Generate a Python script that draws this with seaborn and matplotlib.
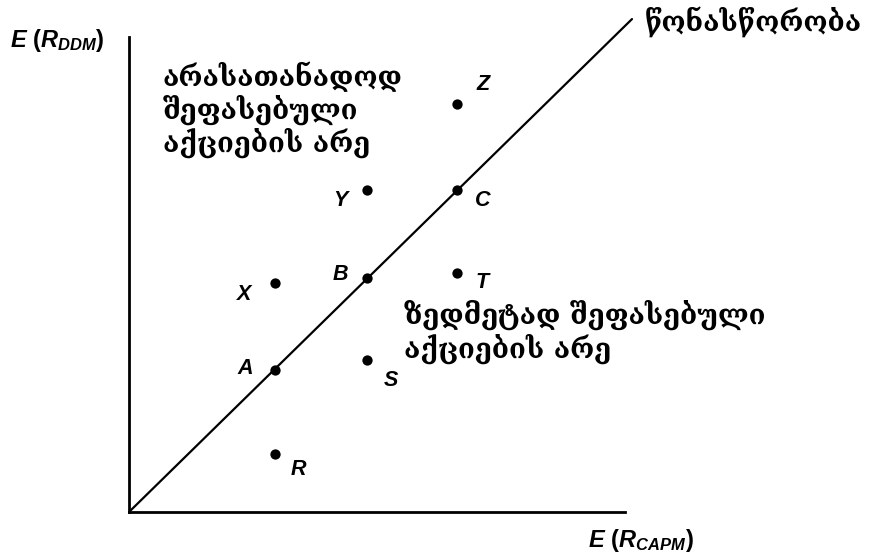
import matplotlib
matplotlib.use("Agg")
import matplotlib.pyplot as plt
import seaborn as sns
import pandas as pd

# Expected returns of individual stocks: CAPM (x) versus dividend discount model (y)
labels = ["A", "B", "C", "X", "Y", "Z", "T", "S", "R"]
capm_returns = [14.6, 23.8, 32.8, 14.6, 23.8, 32.8, 32.8, 23.8, 14.6]
ddm_returns = [14.2, 23.4, 32.2, 22.9, 32.2, 40.8, 23.9, 15.2, 5.8]

# Equilibrium line E(R_DDM) = E(R_CAPM) * slope
line_x = [0.0, 50.3]
line_slope = 0.98

sns.set_theme(style="white")
plt.rcParams["mathtext.fontset"] = "custom"
plt.rcParams["mathtext.it"] = "Liberation Sans:bold:italic"
plt.rcParams["mathtext.rm"] = "Liberation Sans:bold"

fig = plt.figure(figsize=(8.7, 5.56), dpi=100)
ax = fig.add_axes([129 / 870, 44 / 556, 496 / 870, 475 / 556])

df = pd.DataFrame({"label": labels, "capm": capm_returns, "ddm": ddm_returns})

ax.plot(line_x, [v * line_slope for v in line_x], color="black", lw=1.6,
        clip_on=False, zorder=2)
sns.scatterplot(data=df, x="capm", y="ddm", ax=ax, color="black", s=55,
                edgecolor="black", linewidth=0, zorder=3, clip_on=False)

# Letter labels next to each point (offsets in points)
offsets = {
    "A": (-21.5, 1.4), "B": (-19.4, 2.2), "C": (18.7, -7.2),
    "X": (-22, -8.6), "Y": (-19.4, -7.2), "Z": (18.7, 13.7),
    "T": (18, -7.2), "S": (17.3, -14.4), "R": (16.6, -11.5),
}
label_font = dict(family="Liberation Sans", weight="bold", style="italic",
                  size=15.5)
for lab, x, y in zip(labels, capm_returns, ddm_returns):
    dx, dy = offsets[lab]
    ax.annotate(lab, (x, y), xytext=(dx, dy), textcoords="offset points",
                ha="center", va="center", color="black", **label_font)

ax.set_xlim(0, 49.6)
ax.set_ylim(0, 47.5)
ax.set_xticks([])
ax.set_yticks([])
ax.set_xlabel("")
ax.set_ylabel("")
for side in ("top", "right"):
    ax.spines[side].set_visible(False)
for side in ("left", "bottom"):
    ax.spines[side].set_color("black")
    ax.spines[side].set_linewidth(2.0)

geo_font = dict(family="DejaVu Serif", weight="bold", size=19.8, color="black")
fig.text(645 / 870, 1 - 22 / 556, "წონასწორობა", ha="left", va="center",
         **geo_font)
fig.text(163 / 870, 1 - 110 / 556,
         "არასათანადოდ\nშეფასებული\nაქციების არე",
         ha="left", va="center", linespacing=1.12, **geo_font)
fig.text(404 / 870, 1 - 332 / 556,
         "ზედმეტად შეფასებული\nაქციების არე",
         ha="left", va="center", linespacing=1.18, **geo_font)

fig.text(10 / 870, 1 - 40 / 556, r"$E\ \mathrm{(}R_{DDM}\mathrm{)}$",
         ha="left", va="center", fontsize=17, color="black")
fig.text(588 / 870, 1 - 541 / 556, r"$E\ \mathrm{(}R_{CAPM}\mathrm{)}$",
         ha="left", va="center", fontsize=17, color="black")

fig.savefig("out.png", dpi=100)
